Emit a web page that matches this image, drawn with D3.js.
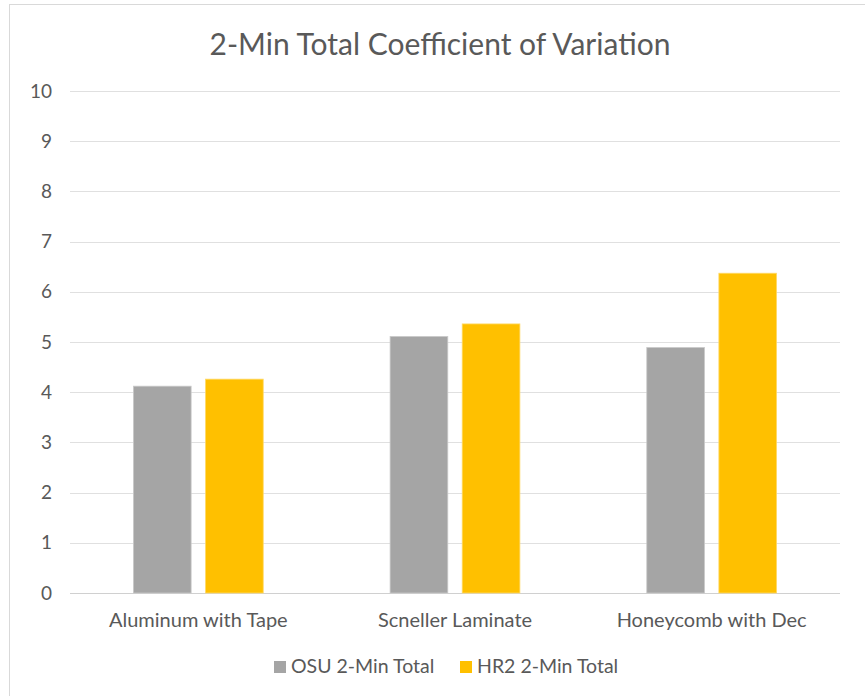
<!DOCTYPE html>
<html>
<head>
<meta charset="utf-8">
<script src="https://cdn.jsdelivr.net/npm/d3@7"></script>
<style>
  body { margin: 0; background: #fff; }
  svg text { font-family: Lato, "Open Sans", sans-serif; fill: #595959; }
</style>
</head>
<body>
<svg id="chart" width="865" height="696"></svg>
<script>
const categories = ["Aluminum with Tape", "Scneller Laminate", "Honeycomb with Dec"];
const seriesNames = ["OSU 2-Min Total", "HR2 2-Min Total"];
const osuValues = [4.12, 5.11, 4.89];
const hr2Values = [4.26, 5.36, 6.37];
const yTicks = [0, 1, 2, 3, 4, 5, 6, 7, 8, 9, 10];
const colors = ["#a5a5a5", "#ffc000"];

const svg = d3.select("#chart");
const W = 865, H = 696;
const m = { left: 70, right: 25, top: 91, bottom: 103 };

// chart frame
svg.append("rect")
  .attr("x", 9.5).attr("y", 4.5)
  .attr("width", W + 10).attr("height", H + 10)
  .attr("fill", "#fff").attr("stroke", "#d9d9d9");

svg.append("text")
  .attr("x", 440).attr("y", 55)
  .attr("text-anchor", "middle")
  .attr("font-size", 30)
  .text("2-Min Total Coefficient of Variation");

const x = d3.scaleBand().domain(categories).range([m.left, W - m.right]);
const xs = d3.scaleBand().domain(seriesNames).range([0, x.bandwidth()]).paddingInner(0.2).paddingOuter(0.88);
const y = d3.scaleLinear().domain([0, 10]).range([H - m.bottom, m.top]);

// grid
svg.append("g").selectAll("line").data(yTicks).join("line")
  .attr("x1", m.left).attr("x2", W - m.right)
  .attr("y1", d => Math.round(y(d)) + 0.5).attr("y2", d => Math.round(y(d)) + 0.5)
  .attr("stroke", d => d === 0 ? "#d0d0d0" : "#e0e0e0")
  .attr("stroke-width", 1);

// y labels
svg.append("g").selectAll("text").data(yTicks).join("text")
  .attr("x", 52).attr("y", d => y(d) + 6.5)
  .attr("text-anchor", "end")
  .attr("font-size", 19)
  .text(d => d);

const rows = categories.map((c, i) => ({ cat: c, vals: [osuValues[i], hr2Values[i]] }));

const groups = svg.append("g").selectAll("g").data(rows).join("g")
  .attr("transform", d => `translate(${x(d.cat)},0)`);

groups.selectAll("rect").data(d => d.vals.map((v, j) => ({ s: seriesNames[j], v, j })))
  .join("rect")
  .attr("x", d => xs(d.s))
  .attr("width", xs.bandwidth())
  .attr("y", d => y(d.v))
  .attr("height", d => y(0) - y(d.v))
  .attr("fill", d => colors[d.j])
  .attr("stroke", d => d.j === 0 ? "#c9c9c9" : "#ffd966")
  .attr("stroke-width", 0.8);

// x labels
svg.append("g").selectAll("text").data(categories).join("text")
  .attr("x", d => x(d) + x.bandwidth() / 2)
  .attr("y", 627)
  .attr("text-anchor", "middle")
  .attr("font-size", 20)
  .text(d => d);

// legend
const legend = svg.append("g");
const legX = [274, 460];
seriesNames.forEach((s, i) => {
  legend.append("rect")
    .attr("x", legX[i]).attr("y", 661)
    .attr("width", 12).attr("height", 12)
    .attr("fill", colors[i]);
  legend.append("text")
    .attr("x", legX[i] + 17).attr("y", 673)
    .attr("font-size", 19.5)
    .text(s);
});
</script>
</body>
</html>
